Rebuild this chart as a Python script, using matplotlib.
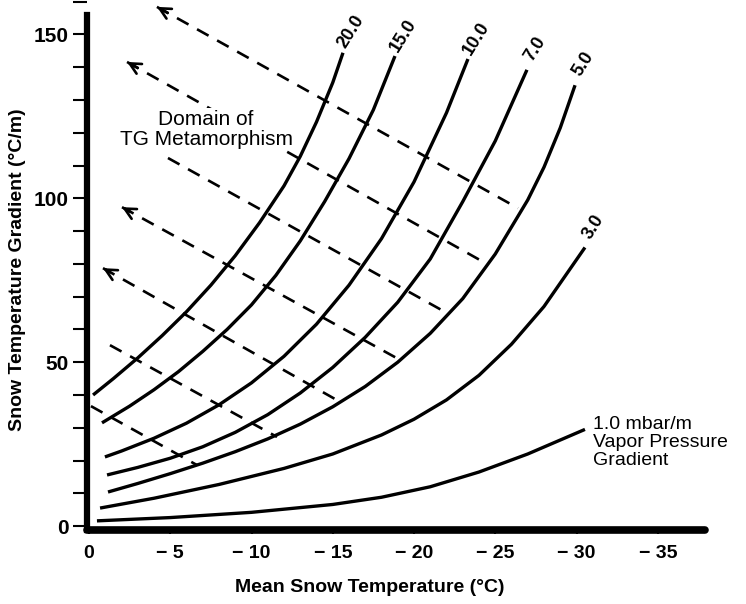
import matplotlib.pyplot as plt
from matplotlib.ticker import MultipleLocator

plt.rcParams['font.family'] = ['Liberation Sans', 'DejaVu Sans']

# curves of constant vapor pressure gradient (mbar/m)
# x = mean snow temperature (C), y = snow temperature gradient (C/m)
t_20 = [-0.25, -1.5, -3, -4.5, -6, -7.5, -9, -10.5, -12, -13, -14, -15, -15.63]
g_20 = [40.0, 45.0, 51.3, 58.1, 65.4, 73.5, 82.5, 92.6, 103.8, 112.8, 123.3, 135.3, 144.4]
t_15 = [-0.8, -2.5, -4, -5.5, -7, -8.5, -10, -11.5, -13, -14.5, -16, -17.5, -18.83]
g_15 = [31.5, 36.6, 41.6, 47.1, 53.3, 60.0, 67.5, 76.5, 87.0, 99.0, 112.1, 127.0, 143.4]
t_10 = [-0.98, -2, -4, -6, -8, -10, -12, -14, -16, -18, -20, -22, -23.32]
g_10 = [21.1, 22.9, 26.8, 31.4, 37.0, 43.7, 51.8, 61.6, 73.5, 87.7, 105.0, 126.1, 142.5]
t_7 = [-1.11, -3, -5, -7, -9, -11, -13, -15, -17, -19, -21, -23, -25, -26.95]
g_7 = [15.6, 17.9, 20.7, 24.2, 28.6, 34.0, 40.6, 48.4, 57.6, 68.3, 81.5, 99.0, 117.5, 139.2]
t_5 = [-1.17, -3, -5, -7, -9, -11, -13, -15, -17, -19, -21, -23, -25, -27, -28, -29, -29.91]
g_5 = [10.4, 13.0, 16.0, 19.2, 22.7, 26.6, 31.1, 36.4, 42.6, 50.0, 58.8, 69.4, 83.0, 99.5,
       109.5, 121.5, 134.5]
t_3 = [-0.68, -4, -8, -12, -15, -18, -20, -22, -24, -26, -28, -30.52]
g_3 = [5.5, 8.5, 12.7, 17.6, 22.0, 27.8, 32.6, 38.5, 46.0, 55.5, 67.0, 85.0]
t_1 = [-0.49, -5, -10, -15, -18, -21, -24, -27, -30.52]
g_1 = [1.6, 2.6, 4.2, 6.6, 8.8, 12.0, 16.5, 22.0, 29.5]

curve_t = [t_20, t_15, t_10, t_7, t_5, t_3, t_1]
curve_g = [g_20, g_15, g_10, g_7, g_5, g_3, g_1]
curve_labels = ['20.0', '15.0', '10.0', '7.0', '5.0', '3.0']

# dashed lines (upper-left start, lower-right end on the 5.0 curve)
dash_t0 = [-4.18, -2.34, -4.86, -2.03, -0.86, -1.29, -0.12]
dash_g0 = [158.4, 141.6, 112.3, 97.3, 78.7, 55.2, 36.6]
dash_t1 = [-26.40, -24.37, -22.03, -19.14, -15.45, -11.57, -6.65]
dash_g1 = [97.0, 80.3, 65.0, 50.7, 37.9, 27.2, 18.6]
dash_arrow = [True, True, False, True, True, False, False]

x_ticks = [0, -5, -10, -15, -20, -25, -30, -35]
y_ticks = [0, 50, 100, 150]

fig = plt.figure(figsize=(7.46, 6.04), dpi=100)
ax = fig.add_axes([87 / 746, 74 / 604, 1 - 87 / 746, 530 / 604])

for t, g in zip(curve_t, curve_g):
    ax.plot(t, g, color='black', lw=2.4, solid_capstyle='butt',
            solid_joinstyle='round', clip_on=False)

for t, g, lab in zip(curve_t, curve_g, curve_labels):
    ax.annotate(lab, xy=(t[-1], g[-1]), xytext=(6, 15), textcoords='offset points',
                rotation=58, ha='center', va='center', fontsize=13, fontweight='bold')

ax.annotate('1.0 mbar/m\nVapor Pressure\nGradient', xy=(t_1[-1], g_1[-1]),
            xytext=(6, 10), textcoords='offset points', ha='left', va='top',
            fontsize=14, linespacing=1.1)

for t0, g0, t1, g1, head in zip(dash_t0, dash_g0, dash_t1, dash_g1, dash_arrow):
    ax.plot([t0, t1], [g0, g1], color='black', lw=1.9, dashes=(5, 3.7), clip_on=False)
    if head:
        ax.annotate('', xy=(t0, g0), xytext=(t0 + 0.03 * (t1 - t0), g0 + 0.03 * (g1 - g0)),
                    arrowprops=dict(arrowstyle='->', lw=1.9, mutation_scale=20,
                                    shrinkA=0, shrinkB=0, color='black'),
                    annotation_clip=False)

ax.text(-7.2, 121.1, 'Domain of\nTG Metamorphism', ha='center', va='center',
        fontsize=15, linespacing=1.05, zorder=5,
        bbox=dict(facecolor='white', edgecolor='none', pad=1))

ax.set_xlim(0.123, -40.43)
ax.set_ylim(-1.19, 160.5)

ax.set_xticks(x_ticks)
ax.set_xticklabels(['0' if v == 0 else '\u2212 %d' % abs(v) for v in x_ticks])
ax.set_yticks(y_ticks)
ax.set_yticklabels([str(v) for v in y_ticks])
ax.yaxis.set_minor_locator(MultipleLocator(10))

ax.tick_params(axis='y', which='both', direction='out', length=10, width=1.5,
               labelsize=15, pad=3)
ax.tick_params(axis='x', direction='out', length=3, width=1.5, labelsize=14, pad=8)
for lab in ax.get_xticklabels() + ax.get_yticklabels():
    lab.set_fontweight('bold')

ax.spines['top'].set_visible(False)
ax.spines['right'].set_visible(False)
ax.spines['left'].set_linewidth(4.5)
ax.spines['left'].set_bounds(-1.19, 155.9)
ax.spines['bottom'].set_linewidth(5.5)
ax.spines['bottom'].set_bounds(0.123, -37.9)
ax.spines['bottom'].set_capstyle('round')
ax.patch.set_visible(False)

fig.text(18 / 746, 1 - 270 / 604, 'Snow Temperature Gradient (\u00b0C/m)', rotation=90,
         ha='center', va='center', fontsize=14, fontweight='bold')
fig.text(370 / 746, 1 - 587 / 604, 'Mean Snow Temperature (\u00b0C)',
         ha='center', va='center', fontsize=14, fontweight='bold')

fig.savefig('out.png', dpi=100)
